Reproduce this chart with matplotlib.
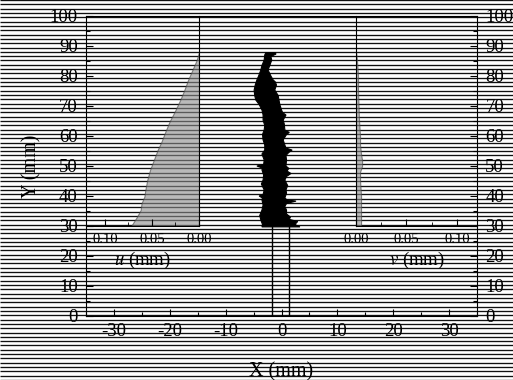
import numpy as np
import matplotlib
matplotlib.use("Agg")
import matplotlib.pyplot as plt
from matplotlib.ticker import MultipleLocator

plt.rcParams['font.family'] = ['Liberation Serif', 'DejaVu Serif']
plt.rcParams['mathtext.fontset'] = 'stix'
plt.rcParams['axes.unicode_minus'] = False

# crack outline (Y in mm, X in mm)
right_y = [29.7, 30.5, 31.5, 32.2, 33, 34, 35.3, 36.5, 37.5, 38.3, 38.7, 39.3, 41,
           42, 43.5, 45.3, 46.5, 47.5, 48.3, 49.2, 50, 52, 53.5, 54.5, 55.3, 56,
           57, 58.7, 60.5, 61.2, 62, 64, 65.3, 67, 67.8, 68.7, 70.5, 72, 73.5,
           75.3, 77, 78, 78.7, 80, 82, 84, 85.3, 86.5, 87.3, 87.8]
right_x = [3.3, 2.4, 2.9, 1.4, 1.6, 0.9, 0.9, 0.6, 0.9, 2.6, 1.0, 0.6, 0.9,
           0.8, 1.1, 0.6, 0.9, 1.7, 1.0, 1.3, 0.8, 0.9, 0.8, 1.3, 1.9, 0.8,
           0.6, 0.3, 0.9, 1.4, 0.6, 0.5, 0.3, 0.8, 0.2, 0.0, -0.3, -0.45, -0.6,
           -1.2, -0.9, -1.1, -1.5, -1.9, -2.4, -2.0, -1.75, -1.9, -1.0, -1.1]
left_y = [87.8, 87, 85.3, 83.5, 82, 80, 78.7, 77, 75.3, 73.5, 72, 70.5, 68.7, 67,
          65.3, 63.5, 62, 60.5, 58.7, 57, 55.3, 54, 52, 50.5, 50, 49.3, 48.7, 47,
          45.3, 44, 42, 40.5, 40, 39.3, 38.7, 37, 35.3, 33.5, 32, 30.5, 29.7]
left_x = [-2.8, -3.0, -3.1, -3.5, -3.7, -4.1, -4.4, -4.7, -4.9, -4.8, -4.6, -4.0,
          -3.5, -3.3, -3.3, -3.0, -3.1, -3.4, -3.3, -3.0, -3.0, -3.5, -3.1, -3.2,
          -4.4, -3.4, -3.5, -3.2, -3.3, -3.6, -3.1, -3.3, -4.0, -3.4, -3.5, -3.3,
          -3.5, -3.9, -3.7, -3.4, -3.5]

# notch edges below the crack
notch_x = [-1.7, 1.4]

# displacement profiles
u_y = [30, 31.5, 33, 35.3, 37.6, 39.8, 42, 45.3, 48.7, 52, 55.3, 58, 62, 65, 68,
       72, 75, 78.7, 82, 85.3, 88]
u_val = [0.072, 0.069, 0.066, 0.062, 0.061, 0.058, 0.057, 0.055, 0.052, 0.048,
         0.044, 0.040, 0.035, 0.031, 0.026, 0.020, 0.016, 0.0116, 0.007, 0.0025,
         0.0]
v_y = [30, 35, 40, 45, 48, 50, 52, 54, 57, 60, 65, 70, 75, 80, 85, 88]
v_val = [0.005, 0.005, 0.005, 0.004, 0.004, 0.006, 0.006, 0.005, 0.004, 0.004,
         0.003, 0.0025, 0.002, 0.002, 0.001, 0.0]

fig = plt.figure(figsize=(5.13, 3.80), dpi=100)

# horizontal line texture across the whole figure
bg = fig.add_axes([0, 0, 1, 1], zorder=-10)
bg.set_xlim(0, 1)
bg.set_ylim(0, 1)
bg.axis('off')
bg.hlines(np.linspace(0.0, 1.0, 89), 0, 1, colors='#111111', lw=0.95)

ax = fig.add_axes([86 / 513, 1 - 316 / 380, 391 / 513, 300 / 380])
ax.set_facecolor('none')

ax.fill(right_x + left_x, right_y + left_y, color='black', lw=0.8, zorder=3)
for nx in notch_x:
    ax.plot([nx, nx], [0, 30], color='black', lw=1.0, zorder=3)

ax.set_xlim(-35, 35)
ax.set_ylim(0, 100)
ax.xaxis.set_minor_locator(MultipleLocator(5))
ax.yaxis.set_major_locator(MultipleLocator(10))
ax.yaxis.set_minor_locator(MultipleLocator(5))
ax.set_xticks([-30, -20, -10, 0, 10, 20, 30])
ax.tick_params(which='both', direction='in', right=True, labelright=True,
               labelsize=13.5, top=False)
ax.tick_params(which='major', length=5, width=0.8)
ax.tick_params(which='minor', length=3, width=0.8)
ax.tick_params(axis='y', pad=6)
ax.tick_params(axis='x', pad=5)
ax.set_xlabel('X (mm)', fontsize=14.5, labelpad=16)
ax.set_ylabel('Y (mm)', fontsize=14.5, labelpad=6)

# u inset
axu = ax.inset_axes([-35, 30, 20.23, 70], transform=ax.transData)
axu.set_facecolor('none')
axu.fill_betweenx(u_y, u_val, 0, facecolor='#8c8c8c', alpha=0.6,
                  edgecolor='#444444', lw=0.8)
axu.set_xlim(0.12, 0)
axu.set_ylim(30, 100)
axu.set_yticks([])
axu.set_xticks([0.10, 0.05, 0.00])
axu.set_xticklabels(['0.10', '0.05', '0.00'])
axu.xaxis.set_minor_locator(MultipleLocator(0.025))
axu.tick_params(which='both', direction='in', labelsize=10.5, pad=5)
axu.tick_params(which='major', length=5)
axu.tick_params(which='minor', length=3)
axu.spines['top'].set_visible(False)
axu.spines['left'].set_visible(False)
axu.set_xlabel(r'$u$ (mm)', fontsize=13.5, labelpad=3)

# v inset
axv = ax.inset_axes([13.34, 30, 21.66, 70], transform=ax.transData)
axv.set_facecolor('none')
axv.fill_betweenx(v_y, v_val, 0, facecolor='#8c8c8c', alpha=0.6,
                  edgecolor='#444444', lw=0.8)
axv.set_xlim(0, 0.12)
axv.set_ylim(30, 100)
axv.set_yticks([])
axv.set_xticks([0.00, 0.05, 0.10])
axv.set_xticklabels(['0.00', '0.05', '0.10'])
axv.xaxis.set_minor_locator(MultipleLocator(0.025))
axv.tick_params(which='both', direction='in', labelsize=10.5, pad=5)
axv.tick_params(which='major', length=5)
axv.tick_params(which='minor', length=3)
axv.spines['top'].set_visible(False)
axv.spines['right'].set_visible(False)
axv.set_xlabel(r'$v$ (mm)', fontsize=13.5, labelpad=3)

fig.savefig('out.png', dpi=100)
